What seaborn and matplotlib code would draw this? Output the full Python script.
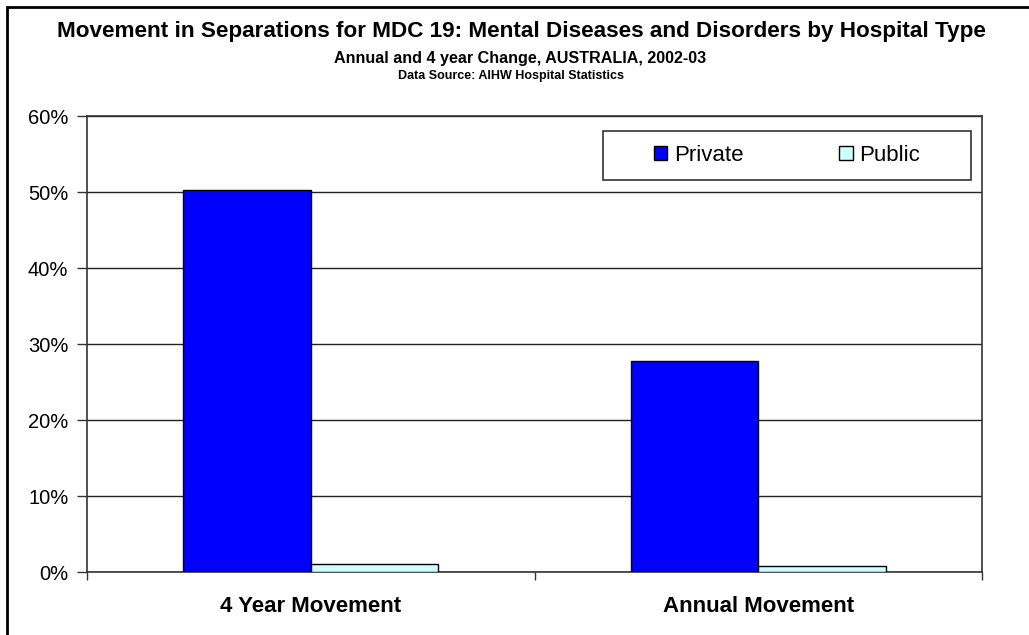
import matplotlib
matplotlib.use("Agg")
import matplotlib.pyplot as plt
import matplotlib.patches as mpatches
from matplotlib.ticker import PercentFormatter, FixedLocator
import seaborn as sns
import pandas as pd

categories = ["4 Year Movement", "Annual Movement"]
series = ["Private", "Public"]
private_vals = [50.2, 27.8]
public_vals = [1.1, 0.8]
colors = {"Private": "#0000FF", "Public": "#CCFFFF"}

title = "Movement in Separations for MDC 19: Mental Diseases and Disorders by Hospital Type"
subtitle = "Annual and 4 year Change, AUSTRALIA, 2002-03"
source = "Data Source: AIHW Hospital Statistics"

df = pd.DataFrame({
    "Category": categories * 2,
    "Type": ["Private"] * len(categories) + ["Public"] * len(categories),
    "Value": private_vals + public_vals,
})

sns.set_style("white")
plt.rcParams["font.family"] = ["Liberation Sans", "DejaVu Sans"]
plt.rcParams["text.color"] = "black"
plt.rcParams["xtick.color"] = "black"
plt.rcParams["ytick.color"] = "black"

W, H = 1029, 635
fig = plt.figure(figsize=(W / 100, H / 100), dpi=100)
ax = fig.add_axes([87 / W, 1 - 572 / H, (982 - 87) / W, (572 - 116) / H])

sns.barplot(data=df, x="Category", y="Value", hue="Type", order=categories,
            hue_order=series, palette=colors, saturation=1, width=0.57,
            edgecolor="black", linewidth=1.0, ax=ax, legend=False, zorder=3)

ax.set_ylim(0, 60)
ax.set_xlim(-0.5, 1.5)
ax.yaxis.set_major_locator(FixedLocator([0, 10, 20, 30, 40, 50, 60]))
ax.yaxis.set_major_formatter(PercentFormatter(decimals=0))
ax.grid(axis="y", color="#222222", linewidth=1.0, zorder=0)
ax.set_axisbelow(True)
ax.set_xlabel("")
ax.set_ylabel("")

for s in ax.spines.values():
    s.set_color("#333333")
    s.set_linewidth(1.2)
    s.set_visible(True)

ax.tick_params(axis="y", which="major", direction="out", length=7, width=1,
               color="#333333", labelcolor="black", labelsize=14.5, pad=6.5, left=True)
ax.tick_params(axis="x", which="major", length=0, labelsize=16, pad=17.5,
               labelcolor="black")
ax.set_xticks([-0.5, 0.5, 1.5], minor=True)
ax.tick_params(axis="x", which="minor", direction="out", length=6, width=1,
               color="#333333", bottom=True)
for lab in ax.get_xticklabels():
    lab.set_fontweight("bold")

# Legend box
bx0, bx1, by0, by1 = 603, 971, 131, 180
box = mpatches.Rectangle((bx0 / W, 1 - by1 / H), (bx1 - bx0) / W, (by1 - by0) / H,
                         transform=fig.transFigure, facecolor="white",
                         edgecolor="#333333", linewidth=1.2, zorder=5)
fig.add_artist(box)
handles = [mpatches.Patch(facecolor=colors[s], edgecolor="black", linewidth=1.0, label=s)
           for s in series]
leg = fig.legend(handles=handles, loc="center", ncol=2, frameon=False,
                 bbox_to_anchor=((bx0 + bx1) / 2 / W, 1 - (by0 + by1) / 2 / H),
                 fontsize=16, handlelength=0.62, handleheight=0.62,
                 handletextpad=0.3, columnspacing=4.3)
leg.set_zorder(6)

fig.text(521 / W, 1 - 31 / H, title, ha="center", va="center", fontsize=16.2, fontweight="bold")
fig.text(520 / W, 1 - 58 / H, subtitle, ha="center", va="center", fontsize=11.6, fontweight="bold")
fig.text(511 / W, 1 - 76 / H, source, ha="center", va="center", fontsize=9, fontweight="bold")

border = mpatches.Rectangle((7 / W, -0.2), 1.2, 1 - 7 / H + 0.2,
                            transform=fig.transFigure, facecolor="none",
                            edgecolor="black", linewidth=2, clip_on=False)
fig.add_artist(border)

fig.savefig("out.png", dpi=100, facecolor="white")
